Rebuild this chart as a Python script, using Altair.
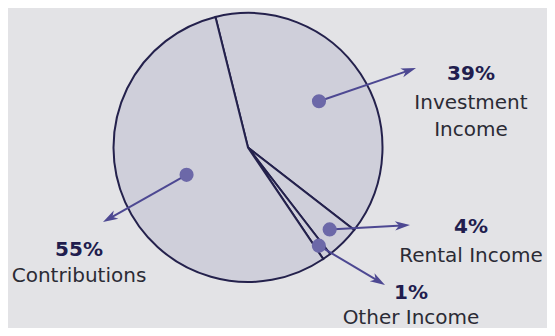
import math
import altair as alt
import pandas as pd

# ---- data ----
categories = ["Investment Income", "Rental Income", "Other Income", "Contributions"]
values = [39, 4, 1, 55]
percent_labels = ["39%", "4%", "1%", "55%"]
name_lines = [["Investment", "Income"], ["Rental Income"], ["Other Income"], ["Contributions"]]

# ---- layout / style (pixels relative to the pie centre, screen y down) ----
W, H = 539, 320
CX, CY, R = 240.0, 139.5, 134.5
START_DEG = 346.0
DOT_FRAC = [0.63, 0.86, 0.90, 0.50]
TIP_PX = [(168, -79.5), (162, 77.5), (137, 137.5), (-145, 74.5)]
PCT_PX = [(223, -73.5), (223, 79.5), (163, 145), (-169, 102.5)]
NAME_GAP = [29, 29, 25, 26]
LINE_GAP = 27
BG, PIE_FILL, PIE_STROKE = "#e3e3e6", "#cfcfda", "#24214c"
DOT_COLOR, ARROW_COLOR = "#6c68a8", "#4d4892"
PCT_COLOR, NAME_COLOR = "#211d4e", "#2b2b35"
FONT = "DejaVu Sans"


def u(dx, dy):
    """pixel offset from centre -> data units (y up)."""
    return dx / R, -dy / R


xscale = alt.Scale(domain=[-CX / R, (W - CX) / R], nice=False, zero=False)
yscale = alt.Scale(domain=[-(H - CY) / R, CY / R], nice=False, zero=False)

pie_df = pd.DataFrame({"category": categories, "value": values, "order": list(range(len(values)))})

total = sum(values)
rows, texts = [], []
cum = 0
for i, (cat, v) in enumerate(zip(categories, values)):
    mid = math.radians(START_DEG + (cum + v / 2) / total * 360)
    cum += v
    f = DOT_FRAC[i]
    dot_dx, dot_dy = f * R * math.sin(mid), -f * R * math.cos(mid)
    tip_dx, tip_dy = TIP_PX[i]
    ddx, ddy = tip_dx - dot_dx, tip_dy - dot_dy
    L = math.hypot(ddx, ddy)
    end_dx, end_dy = tip_dx - ddx / L * 8, tip_dy - ddy / L * 8
    ang = math.degrees(math.atan2(ddx, -ddy)) % 360
    dx_u, dy_u = u(dot_dx, dot_dy)
    tx_u, ty_u = u(tip_dx, tip_dy)
    ex_u, ey_u = u(end_dx, end_dy)
    rows.append({"category": cat, "x": dx_u, "y": dy_u, "ex": ex_u, "ey": ey_u,
                 "tx": tx_u, "ty": ty_u, "ang": ang})
    px, py = PCT_PX[i]
    x_u, y_u = u(px, py)
    texts.append({"text": percent_labels[i], "x": x_u, "y": y_u, "kind": "pct"})
    for j, ln in enumerate(name_lines[i]):
        nx_u, ny_u = u(px, py + NAME_GAP[i] + j * LINE_GAP)
        texts.append({"text": ln, "x": nx_u, "y": ny_u, "kind": "name"})

pts = pd.DataFrame(rows)
txt = pd.DataFrame(texts)

pie = alt.Chart(pie_df).mark_arc(
    outerRadius=R, fill=PIE_FILL, stroke=PIE_STROKE, strokeWidth=2, strokeJoin="miter"
).encode(
    theta=alt.Theta("value:Q", stack=True,
                    scale=alt.Scale(range=[math.radians(START_DEG), math.radians(START_DEG) + 2 * math.pi])),
    order=alt.Order("order:Q"),
    x=alt.X(datum=0, type="quantitative", scale=xscale, axis=None),
    y=alt.Y(datum=0, type="quantitative", scale=yscale, axis=None),
)

arrows = alt.Chart(pts).mark_rule(color=ARROW_COLOR, strokeWidth=2).encode(
    x=alt.X("x:Q", scale=xscale, axis=None),
    y=alt.Y("y:Q", scale=yscale, axis=None),
    x2="ex:Q",
    y2="ey:Q",
)

heads = alt.Chart(pts).mark_point(
    shape="M0,0 L0.62,2 L0,1.45 L-0.62,2 Z", filled=True, fill=ARROW_COLOR,
    strokeWidth=0, size=225, opacity=1
).encode(
    x=alt.X("tx:Q", scale=xscale, axis=None),
    y=alt.Y("ty:Q", scale=yscale, axis=None),
    angle=alt.Angle("ang:Q", scale=None),
)

dots = alt.Chart(pts).mark_circle(size=200, color=DOT_COLOR, opacity=1).encode(
    x=alt.X("x:Q", scale=xscale, axis=None),
    y=alt.Y("y:Q", scale=yscale, axis=None),
)

pct = alt.Chart(txt).transform_filter(alt.datum.kind == "pct").mark_text(
    font=FONT, fontSize=20, fontWeight="bold", color=PCT_COLOR, align="center", baseline="middle"
).encode(
    x=alt.X("x:Q", scale=xscale, axis=None),
    y=alt.Y("y:Q", scale=yscale, axis=None),
    text="text:N",
)

names = alt.Chart(txt).transform_filter(alt.datum.kind == "name").mark_text(
    font=FONT, fontSize=20, color=NAME_COLOR, align="center", baseline="middle"
).encode(
    x=alt.X("x:Q", scale=xscale, axis=None),
    y=alt.Y("y:Q", scale=yscale, axis=None),
    text="text:N",
)

chart = alt.layer(pie, arrows, heads, dots, pct, names).properties(
    width=W, height=H, padding=0, background=BG,
    autosize=alt.AutoSizeParams(type="none"),
).configure_view(stroke=None)

chart.save("out.html", embed_options={"renderer": "svg", "actions": False})
